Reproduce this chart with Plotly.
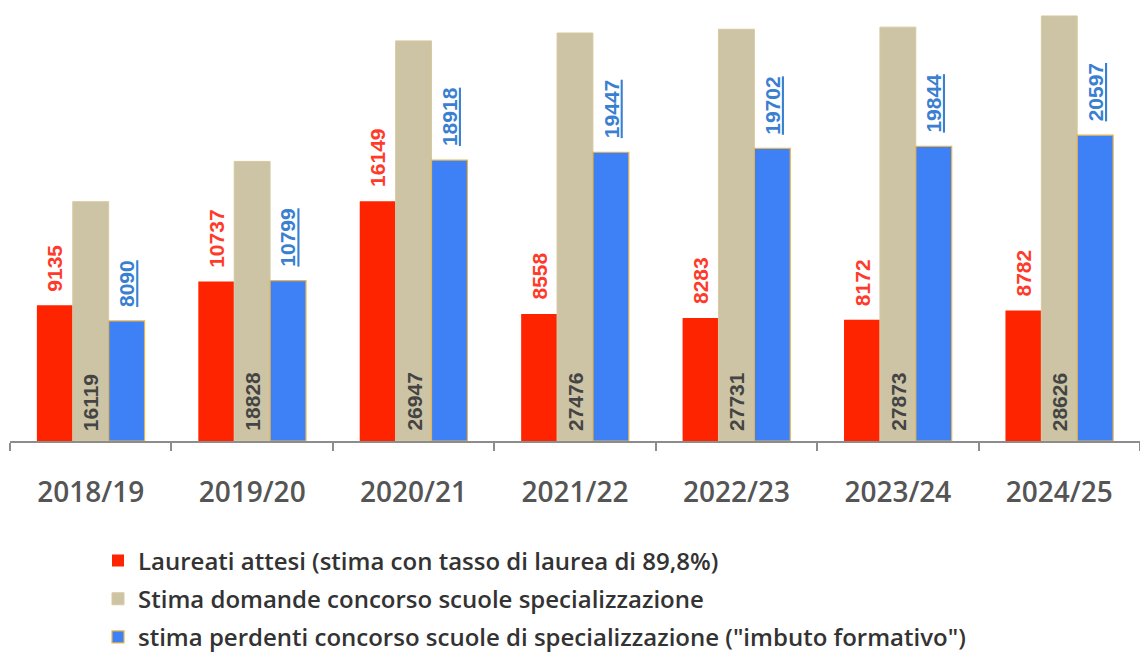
import plotly.graph_objects as go

years = ["2018/19", "2019/20", "2020/21", "2021/22", "2022/23", "2023/24", "2024/25"]
laureati = [9135, 10737, 16149, 8558, 8283, 8172, 8782]
domande = [16119, 18828, 26947, 27476, 27731, 27873, 28626]
perdenti = [8090, 10799, 18918, 19447, 19702, 19844, 20597]

names = [
    "Laureati attesi (stima con tasso di laurea di 89,8%)",
    "Stima domande concorso scuole specializzazione",
    "stima perdenti concorso scuole di specializzazione (\"imbuto formativo\")",
]

RED = "#ff2400"
BEIGE = "#ccc4a5"
BLUE = "#3e80f5"
GOLD = "#e9b44c"

fig = go.Figure()
fig.add_trace(go.Bar(x=years, y=laureati, name=names[0], marker=dict(color=RED, line=dict(width=0)),
                     legendgroup="a"))
fig.add_trace(go.Bar(x=years, y=domande, name=names[1], marker=dict(color=BEIGE, line=dict(width=1, color="#d8c9a0")),
                     legendgroup="b"))
fig.add_trace(go.Bar(x=years, y=perdenti, name=names[2], marker=dict(color=BLUE, line=dict(width=1.2, color=GOLD)),
                     legendgroup="c"))

bw = (1 - 0.333) / 3
lab_font = "Liberation Sans, Arial, sans-serif"
for i in range(len(years)):
    fig.add_annotation(x=i - bw, y=laureati[i], xref="x", yref="y", text=f"<b>{laureati[i]}</b>",
                       textangle=-90, showarrow=False, yanchor="bottom", yshift=12,
                       font=dict(family=lab_font, size=21, color="#ff3a2a"))
    fig.add_annotation(x=i, y=0, xref="x", yref="y", text=f"<b>{domande[i]}</b>",
                       textangle=-90, showarrow=False, yanchor="bottom", yshift=8,
                       font=dict(family=lab_font, size=21, color="#444444"))
    fig.add_annotation(x=i + bw, y=perdenti[i], xref="x", yref="y", text=f"<b>{perdenti[i]}</b>",
                       textangle=-90, showarrow=False, yanchor="bottom", yshift=12,
                       font=dict(family=lab_font, size=21, color="#3a7fd0", lineposition="under"))

fig.update_layout(
    width=1140, height=657,
    margin=dict(l=10, r=0, t=0, b=216, autoexpand=False),
    barmode="group", bargap=0.333, bargroupgap=0,
    plot_bgcolor="white", paper_bgcolor="white",
    showlegend=True,
    legend=dict(
        x=(98 - 10) / 1130, xanchor="left", y=-0.221, yanchor="top",
        traceorder="grouped", tracegroupgap=4,
        font=dict(family="Open Sans, sans-serif", size=24, color="#333333", weight=600),
        bgcolor="rgba(0,0,0,0)", itemclick=False,
    ),
    xaxis=dict(
        automargin=False,
        showline=True, linecolor="#8c8c8c", linewidth=1.5,
        ticks="outside", tickson="boundaries", ticklen=8, tickcolor="#8c8c8c", tickwidth=1.5,
        tickfont=dict(family="Open Sans, sans-serif", size=28, color="#555555", weight=600),
        ticklabelstandoff=26,
        showgrid=False, range=[-0.5, 6.5],
    ),
    yaxis=dict(visible=False, range=[0, 29700], showgrid=False, automargin=False),
)

fig.write_html("out.html")
